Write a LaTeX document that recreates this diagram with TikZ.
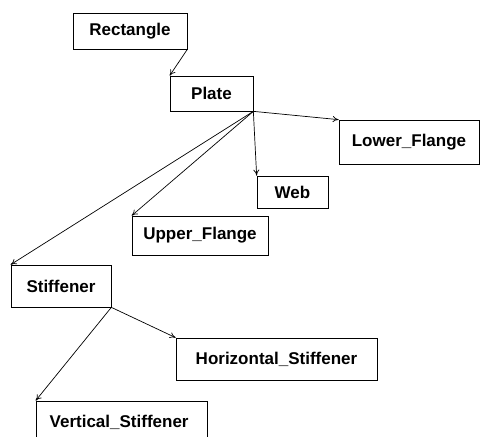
\documentclass[tikz,border=0pt]{standalone}
\usepackage{fontspec}
\setmainfont{Liberation Sans}
\usetikzlibrary{arrows.meta}
\begin{document}
\begin{tikzpicture}[x=1pt,y=-1pt, line width=0.7pt,
    every node/.style={font=\fontsize{17}{19}\selectfont\bfseries},
    classbox/.style={draw, inner sep=0pt, align=center},
    inherit/.style={-{To[length=6pt,width=6pt]}}]
  \useasboundingbox (0,0) rectangle (480,437);
  % class boxes: name/x/y/width/height/label
  \foreach \nm/\x/\y/\w/\h/\txt in {
    rect/130/31/114/36/{Rectangle},
    plate/211.5/93.5/83/35/{Plate},
    lower/409/142/140/44/{Lower\_Flange},
    web/292.5/192/71/32/{Web},
    upper/200/235.5/136/39/{Upper\_Flange},
    stiff/61/286/100/42/{Stiffener},
    horiz/276.5/359/201/42/{Horizontal\_Stiffener},
    vert/121.5/422/171/42/{Vertical\_Stiffener}
  }{
    \node[classbox, minimum width=\w pt, minimum height=\h pt] (\nm) at (\x,\y) {\txt};
  }
  % derivation arrows
  \foreach \a/\b in {rect/plate, plate/lower, plate/web, plate/upper, plate/stiff, stiff/horiz, stiff/vert}{
    \draw[inherit] (\a.south east) -- (\b.north west);
  }
\end{tikzpicture}
\end{document}
